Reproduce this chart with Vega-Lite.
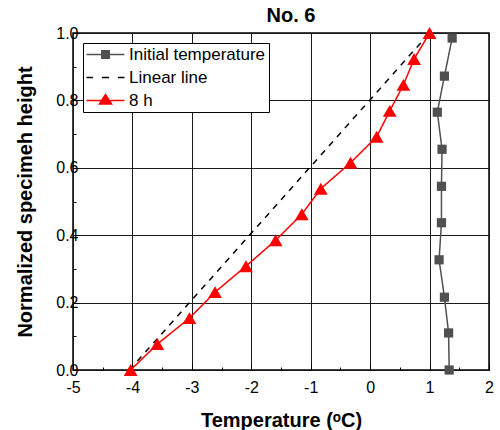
{
  "$schema": "https://vega.github.io/schema/vega-lite/v6.json",
  "width": 416,
  "height": 337,
  "autosize": {"type": "none"},
  "padding": {"left": 73, "top": 33, "right": 11, "bottom": 60},
  "background": "white",
  "title": {"text": "No. 6", "font": "Liberation Sans", "fontSize": 20, "fontWeight": "bold", "color": "black", "anchor": "middle", "dx": 10, "offset": -1},
  "data": {"values": [
    {"s": "Initial temperature", "t": 1.38, "h": 0.985},
    {"s": "Initial temperature", "t": 1.25, "h": 0.872},
    {"s": "Initial temperature", "t": 1.13, "h": 0.765},
    {"s": "Initial temperature", "t": 1.21, "h": 0.655},
    {"s": "Initial temperature", "t": 1.2, "h": 0.545},
    {"s": "Initial temperature", "t": 1.2, "h": 0.437},
    {"s": "Initial temperature", "t": 1.16, "h": 0.327},
    {"s": "Initial temperature", "t": 1.25, "h": 0.216},
    {"s": "Initial temperature", "t": 1.32, "h": 0.11},
    {"s": "Initial temperature", "t": 1.33, "h": 0.0},
    {"s": "Linear line", "t": -4.05, "h": 0.0},
    {"s": "Linear line", "t": 1.0, "h": 1.0},
    {"s": "8 h", "t": -4.03, "h": 0.0},
    {"s": "8 h", "t": -3.58, "h": 0.077},
    {"s": "8 h", "t": -3.04, "h": 0.154},
    {"s": "8 h", "t": -2.61, "h": 0.231},
    {"s": "8 h", "t": -2.09, "h": 0.308},
    {"s": "8 h", "t": -1.59, "h": 0.385},
    {"s": "8 h", "t": -1.15, "h": 0.462},
    {"s": "8 h", "t": -0.83, "h": 0.538},
    {"s": "8 h", "t": -0.33, "h": 0.615},
    {"s": "8 h", "t": 0.11, "h": 0.692},
    {"s": "8 h", "t": 0.33, "h": 0.769},
    {"s": "8 h", "t": 0.56, "h": 0.846},
    {"s": "8 h", "t": 0.74, "h": 0.923},
    {"s": "8 h", "t": 1.0, "h": 1.0}
  ]},
  "encoding": {
    "x": {
      "field": "t", "type": "quantitative",
      "scale": {"domain": [-5, 2], "nice": false, "zero": false},
      "axis": {
        "title": "Temperature (ᵒC)",
        "values": [-5, -4.5, -4, -3.5, -3, -2.5, -2, -1.5, -1, -0.5, 0, 0.5, 1, 1.5, 2],
        "labelExpr": "datum.value % 1 === 0 ? '' + datum.value : ''",
        "tickSize": {"condition": {"test": "datum.value % 1 === 0", "value": -6}, "value": -3},
        "gridOpacity": {"condition": {"test": "datum.value % 1 === 0", "value": 1}, "value": 0},
        "grid": true, "gridColor": "#1a1a1a", "gridWidth": 1,
        "tickColor": "black", "tickWidth": 1, "domain": false,
        "labelFont": "Liberation Sans", "labelFontSize": 16, "labelColor": "black", "labelPadding": 15,
        "labelOverlap": false, "labelFlush": false,
        "titleFont": "Liberation Sans", "titleFontSize": 20, "titleFontWeight": "bold", "titleColor": "black", "titlePadding": 12
      }
    },
    "y": {
      "field": "h", "type": "quantitative",
      "scale": {"domain": [0, 1], "nice": false, "zero": false},
      "axis": {
        "title": "Normalized specimeh height",
        "values": [0, 0.1, 0.2, 0.3, 0.4, 0.5, 0.6, 0.7, 0.8, 0.9, 1.0],
        "labelExpr": "abs(datum.value * 5 - round(datum.value * 5)) < 0.000001 ? format(datum.value, '.1f') : ''",
        "tickSize": {"condition": {"test": "abs(datum.value * 5 - round(datum.value * 5)) < 0.000001", "value": -6}, "value": -3},
        "gridOpacity": {"condition": {"test": "abs(datum.value * 5 - round(datum.value * 5)) < 0.000001", "value": 1}, "value": 0},
        "grid": true, "gridColor": "#1a1a1a", "gridWidth": 1,
        "tickColor": "black", "tickWidth": 1, "domain": false,
        "labelFont": "Liberation Sans", "labelFontSize": 16, "labelColor": "black", "labelPadding": 1,
        "labelOverlap": false, "labelFlush": false,
        "titleFont": "Liberation Sans", "titleFontSize": 20, "titleFontWeight": "bold", "titleColor": "black", "titlePadding": 20
      }
    }
  },
  "layer": [
    {
      "mark": {"type": "line", "strokeWidth": 1.5},
      "encoding": {
        "stroke": {"field": "s", "type": "nominal", "scale": {"domain": ["8 h", "Initial temperature", "Linear line"], "range": ["#ff0000", "#505050", "#000000"]}, "legend": null},
        "strokeDash": {"field": "s", "type": "nominal", "scale": {"domain": ["Linear line", "8 h", "Initial temperature"], "range": [[6, 6], [1, 0], [1, 0]]}, "legend": null},
        "order": {"field": "h", "type": "quantitative"}
      }
    },
    {
      "transform": [{"filter": "datum.s === 'Initial temperature'"}],
      "mark": {"type": "point", "shape": "square", "filled": true, "size": 85, "color": "#505050", "opacity": 1}
    },
    {
      "transform": [{"filter": "datum.s === '8 h'"}],
      "mark": {"type": "point", "shape": "triangle-up", "filled": true, "size": 190, "color": "#ff0000", "opacity": 1}
    },
    {
      "transform": [{"filter": "datum.s === 'legend-only'"}],
      "mark": {"type": "point", "filled": true, "opacity": 1},
      "encoding": {
        "shape": {"field": "s", "type": "nominal", "title": null,
          "scale": {"domain": ["Initial temperature", "Linear line", "8 h"], "range": [
            "M-2.71,-0.11L2.71,-0.11L2.71,0.11L-2.71,0.11Z M-0.64,-0.64L0.64,-0.64L0.64,0.64L-0.64,0.64Z",
            "M-2.71,-0.11L-1.79,-0.11L-1.79,0.11L-2.71,0.11Z M-0.5,-0.11L0.5,-0.11L0.5,0.11L-0.5,0.11Z M1.79,-0.11L2.71,-0.11L2.71,0.11L1.79,0.11Z",
            "M-2.71,-0.11L2.71,-0.11L2.71,0.11L-2.71,0.11Z M0,-1.04L1.07,0.61L-1.07,0.61Z"
          ]},
          "legend": {"orient": "none", "legendX": 10, "legendY": 10, "symbolSize": 196, "symbolOffset": 11, "labelOffset": 15, "symbolOpacity": 1, "symbolStrokeWidth": 0}
        },
        "color": {"field": "s", "type": "nominal", "title": null,
          "scale": {"domain": ["Initial temperature", "Linear line", "8 h"], "range": ["#505050", "#000000", "#ff0000"]},
          "legend": {"orient": "none", "legendX": 10, "legendY": 10, "symbolSize": 196, "symbolOffset": 11, "labelOffset": 15, "symbolOpacity": 1, "symbolStrokeWidth": 0}
        }
      }
    }
  ],
  "config": {
    "font": "Liberation Sans",
    "view": {"stroke": "black", "strokeWidth": 1.5},
    "legend": {
      "strokeColor": "black", "strokeWidth": 1, "fillColor": "white", "cornerRadius": 0,
      "padding": 3,
      "labelFont": "Liberation Sans", "labelFontSize": 17, "labelColor": "black", "labelLimit": 300,
      "rowPadding": 5
    }
  }
}
